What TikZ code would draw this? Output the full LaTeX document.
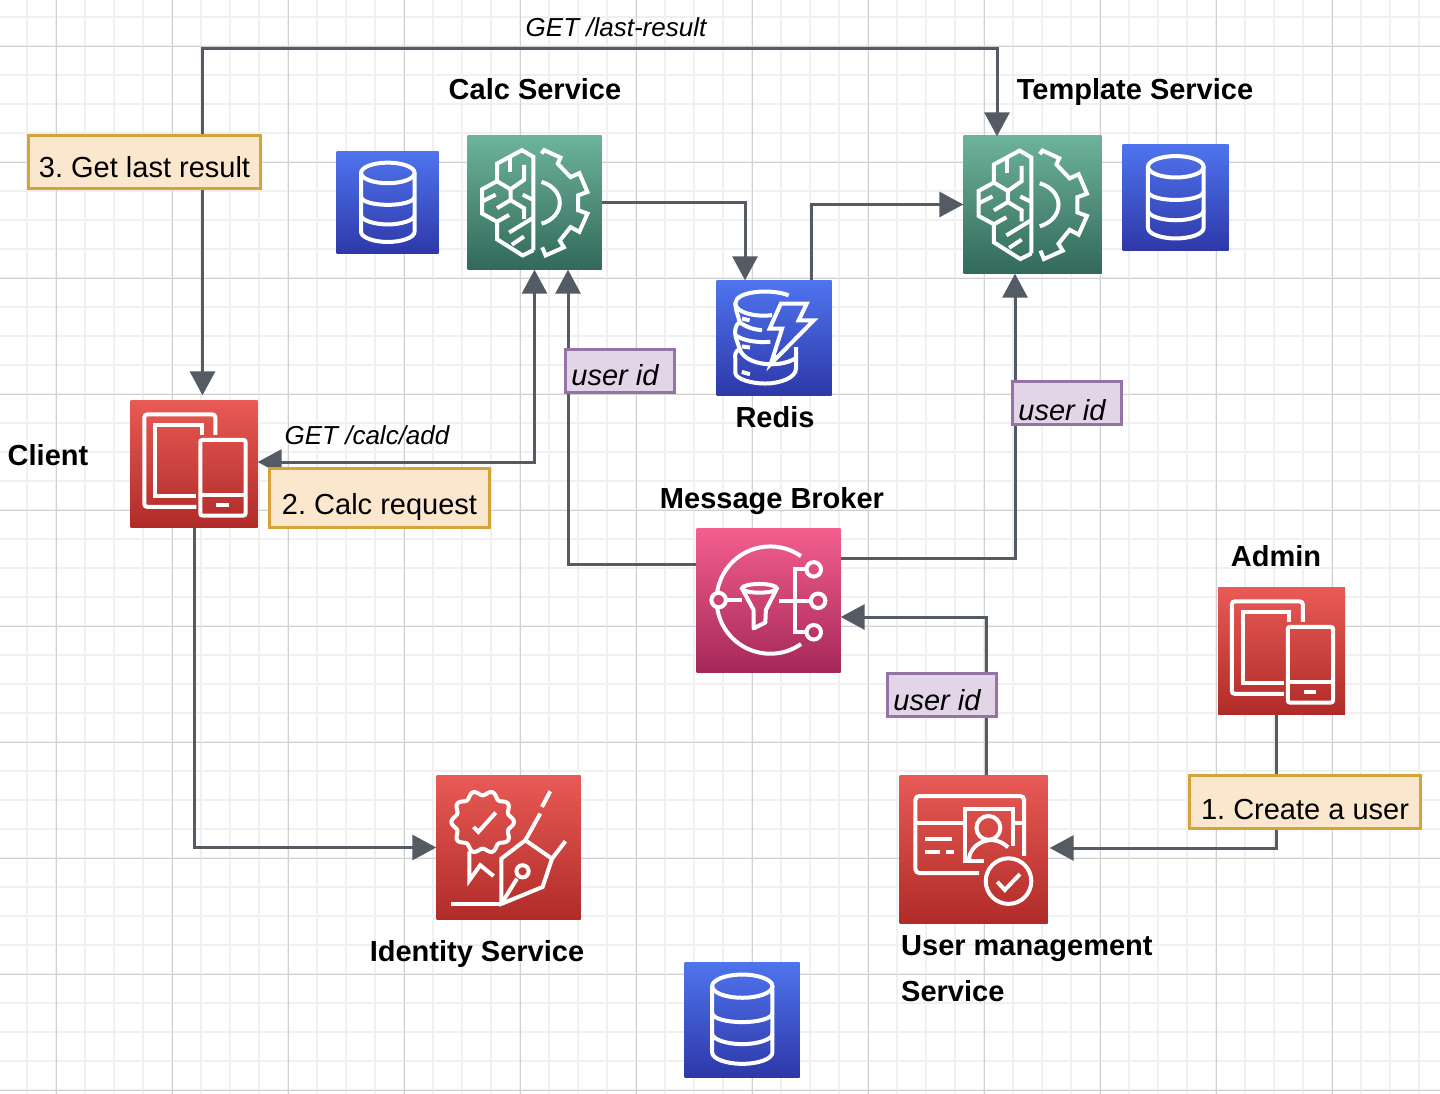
\documentclass[tikz,border=0pt]{standalone}
\usepackage{fontspec}
\setmainfont{Liberation Sans}
\usetikzlibrary{arrows.meta}
\frenchspacing
\definecolor{connector}{HTML}{545B64}
\definecolor{redtop}{HTML}{E85A55}
\definecolor{redbot}{HTML}{B02B28}
\definecolor{greentop}{HTML}{6DB39B}
\definecolor{greenbot}{HTML}{32695A}
\definecolor{bluetop}{HTML}{4F74EE}
\definecolor{bluebot}{HTML}{2E38A8}
\definecolor{pinktop}{HTML}{F25E8E}
\definecolor{pinkbot}{HTML}{A52858}
\definecolor{pinkmid}{HTML}{CC4273}
\definecolor{stepline}{HTML}{D6A23A}
\definecolor{stepfill}{HTML}{FBE6CE}
\definecolor{idline}{HTML}{9673A6}
\definecolor{idfill}{HTML}{E1D5E7}
\newcommand{\notetext}[2]{\raisebox{#1}[0pt][0pt]{#2}}
\tikzset{
  minorgrid/.style={draw=black!6,line width=1.2pt},
  majorgrid/.style={draw=black!18,line width=.9pt},
  iconbox/.style={rectangle,inner sep=0pt,minimum size=#1},
  redbox/.style={iconbox=#1,top color=redtop,bottom color=redbot},
  greenbox/.style={iconbox=#1,top color=greentop,bottom color=greenbot},
  bluebox/.style={iconbox=#1,top color=bluetop,bottom color=bluebot},
  pinkbox/.style={iconbox=#1,top color=pinktop,bottom color=pinkbot},
  conn/.style={draw=connector,line width=3pt,
    arrows={-Triangle[length=24pt,width=25pt]}},
  connboth/.style={conn,arrows={Triangle[length=24pt,width=25pt]-Triangle[length=24pt,width=25pt]}},
  title/.style={font=\fontsize{29}{46}\selectfont\bfseries,inner sep=0pt},
  route/.style={font=\fontsize{26}{30}\selectfont\itshape,inner sep=0pt},
  stepnote/.style={draw=stepline,fill=stepfill,line width=3pt,inner sep=0pt,
    font=\fontsize{29}{34}\selectfont},
  idnote/.style={draw=idline,fill=idfill,line width=3pt,inner sep=0pt,
    minimum width=109pt,minimum height=43pt,font=\fontsize{29}{34}\selectfont\itshape},
  glyph/.style={draw=white,line width=4pt,line join=miter,line cap=butt},
  dbglyph/.pic={
    \draw[glyph] (50,21) ellipse [x radius=26,y radius=10];
    \draw[glyph] (24,21) -- (24,78) .. controls (24,84) and (37,88) .. (50,88)
      .. controls (63,88) and (76,84) .. (76,78) -- (76,21);
    \draw[glyph] (24,44) .. controls (24,49) and (37,52) .. (50,52)
      .. controls (63,52) and (76,49) .. (76,44);
    \draw[glyph] (24,62) .. controls (24,67) and (37,71) .. (50,71)
      .. controls (63,71) and (76,67) .. (76,62);
  },
  brainglyph/.pic={
    \draw[glyph] (49,85) -- (49,16) -- (40.5,11) -- (22,21) -- (22,34) -- (11,40) -- (11,58)
      -- (22,64) -- (22,77) -- (41,89) -- (49,85);
    \draw[glyph] (31.6,16) -- (31.6,27);
    \draw[glyph] (22,34) -- (32,40) -- (42,33) -- (42,22);
    \draw[glyph] (32,40) -- (32,48) -- (42,54) -- (42,62);
    \draw[glyph] (11,49) -- (21,44);
    \draw[glyph] (22,54) -- (32,48);
    \draw[glyph] (41,44) -- (49,48);
    \draw[glyph] (22,64) -- (31,59);
    \draw[glyph] (31,72) -- (49,61);
    \draw[glyph] (33,81) -- (42,75);
    \draw[glyph] (55,13.5) -- (57,11) -- (69,16.5) -- (67,21) -- (76.5,31) -- (83,28) -- (89,42)
      -- (82,44.5) -- (82,55.5) -- (89,58) -- (83,71.5) -- (76.5,68) -- (68.5,78) -- (71.5,83)
      -- (58,89) -- (55.5,83);
    \draw[glyph] (55,34.5) .. controls (73,40) and (73,60) .. (55,65.5);
  },
  deviceglyph/.pic={
    \draw[glyph,rounded corners=3pt] (51.6,83.3) -- (11,83.3) -- (11,11) -- (66.4,11) -- (66.4,27);
    \draw[glyph] (51.6,75) -- (19.5,75) -- (19.5,19.5) -- (56,19.5) -- (56,27);
    \draw[glyph,rounded corners=2pt] (54.7,31) rectangle (90,90);
    \draw[glyph] (54.7,74) -- (90,74);
    \fill[white] (67,80) rectangle (77,83);
  },
  brokerglyph/.pic={
    \draw[glyph] (51,49.5) ++(-55:37) arc [start angle=-55,end angle=-305,radius=37];
    \draw[glyph,fill=pinkmid] (15.4,49.5) circle [radius=5];
    \draw[glyph] (81,28.3) circle [radius=5];
    \draw[glyph] (84,50) circle [radius=5];
    \draw[glyph] (81,71.7) circle [radius=5];
    \draw[glyph] (21,49.5) -- (31.6,49.5);
    \draw[glyph] (43.5,41.4) ellipse [x radius=12,y radius=3];
    \draw[glyph,line join=round] (31.5,41.4) -- (39.5,56.3) -- (39.5,69) -- (47.6,65) -- (48,56.3) -- (55.6,41.4);
    \draw[glyph] (56.8,50) -- (78.5,50);
    \draw[glyph] (75.6,28.3) -- (67.8,28.3) -- (67.8,71.7) -- (75.6,71.7);
  },
  idglyph/.pic={
    \draw[glyph] plot[domain=0:360,samples=121,smooth]
      ({32+(20+1.6*cos(10*\x))*cos(\x)},{32.2+(20+1.6*cos(10*\x))*sin(\x)}) -- cycle;
    \draw[glyph] (25.7,35.6) -- (29,39) -- (41,25.7);
    \draw[glyph] (22.8,52.4) -- (22.8,72.4) -- (30.3,62) -- (39.5,69.5);
    \draw[glyph] (10.3,88.7) -- (44.8,88.7);
    \draw[glyph] (44.8,88.7) -- (44.8,57.5) -- (61.4,44.8) -- (79.8,57.5) -- (73.3,77) -- cycle;
    \draw[glyph] (44.8,88.7) -- (55.6,71.3);
    \draw[glyph] (59.5,66.2) circle [radius=4.2];
    \draw[glyph] (61.4,44.8) -- (71.7,26.4);
    \draw[glyph] (72.9,21.8) -- (78.6,11);
    \draw[glyph] (79.8,57.5) -- (89,45.5);
  },
  userglyph/.pic={
    \draw[glyph,rounded corners=4pt] (53.5,65.6) -- (10.8,65.6) -- (10.8,13.9) -- (83.8,13.9) -- (83.8,54);
    \draw[glyph] (10.8,32) -- (42.9,32);
    \draw[glyph] (77.5,32) -- (83.8,32);
    \draw[glyph] (17.5,42.7) -- (35.5,42.7);
    \draw[glyph] (17.5,51.2) -- (27.6,51.2);
    \draw[glyph] (31,51.2) -- (36.6,51.2);
    \draw[glyph] (76,47.2) -- (76,22.5) -- (43.8,22.5) -- (43.8,57.3) -- (56.9,57.3);
    \draw[glyph] (59.8,35.3) circle [radius=8];
    \draw[glyph] (46.8,56.2) .. controls (47.5,46) and (62,38) .. (73,48.3);
    \draw[glyph] (73.3,71) circle [radius=15.3];
    \draw[glyph] (65.8,71.5) -- (70.8,76.9) -- (81,66.3);
  },
  redisglyph/.pic={
    \draw[glyph] (62.4,13) .. controls (48,7) and (16.4,9) .. (16.4,20)
      .. controls (16.4,28) and (35,32) .. (48,30);
    \draw[glyph] (16.4,20) .. controls (16.4,26) and (19,30) .. (20,36)
      .. controls (16,39) and (16,44) .. (16.4,47)
      .. controls (17,51) and (19,55) .. (20,59)
      .. controls (16,62) and (16,64) .. (16.4,68) -- (16.4,80)
      .. controls (17,85) and (30,89) .. (42,89)
      .. controls (55,89) and (68.7,84) .. (68.7,76) -- (68.7,57.5);
    \draw[glyph] (20,36) .. controls (25,40) and (32,42.5) .. (39.4,43);
    \draw[glyph] (16.4,47) .. controls (22,52) and (35,54) .. (46.6,53);
    \draw[glyph] (20,59) .. controls (25,74) and (55,76) .. (68.7,67);
    \draw[glyph] (22.2,33) -- (28.7,34.5);
    \draw[glyph] (22,57) -- (29,58);
    \draw[glyph] (22,79) -- (29,81);
    \draw[glyph] (55.7,20) -- (78,20) -- (71,34.5) -- (84,34.5) -- (47,72) -- (56.7,41.7) -- (46,41.7) -- cycle;
  },
}
\begin{document}
\begin{tikzpicture}[x=1pt,y=-1pt]
  \useasboundingbox (0,0) rectangle (1440,1094);
  \fill[white] (0,0) rectangle (1440,1094);

  % grid
  \foreach \gx in {27,56,...,1440} \draw[minorgrid] (\gx,0) -- (\gx,1094);
  \foreach \gy in {17,46,...,1094} \draw[minorgrid] (0,\gy) -- (1440,\gy);
  \foreach \gx in {56,172,...,1440} \draw[majorgrid] (\gx,0) -- (\gx,1094);
  \foreach \gy in {46,162,...,1094} \draw[majorgrid] (0,\gy) -- (1440,\gy);

  % services
  \node[greenbox=134pt] (calc) at (534.5,202.5) {};
  \node[greenbox=138pt] (template) at (1032.5,204.5) {};
  \node[bluebox=102pt] (calcdb) at (387.5,202.5) {};
  \node[bluebox=106pt] (templatedb) at (1175.5,197.5) {};
  \node[bluebox=115pt] (redis) at (774,338) {};
  \node[redbox=127pt] (client) at (194,464) {};
  \node[pinkbox=144pt] (broker) at (768.5,600.5) {};
  \node[redbox=127pt] (admin) at (1281.5,651) {};
  \node[redbox=144pt] (identity) at (508.5,847.5) {};
  \node[redbox=148pt] (mgmt) at (973.5,849.5) {};
  \node[bluebox=115pt] (mgmtdb) at (742,1019.5) {};

  \pic[scale=1.35] at (calc.north west) {brainglyph};
  \pic[scale=1.39] at (template.north west) {brainglyph};
  \pic[scale=1.03] at (calcdb.north west) {dbglyph};
  \pic[scale=1.07] at (templatedb.north west) {dbglyph};
  \pic[scale=1.16] at (mgmtdb.north west) {dbglyph};
  \pic[scale=1.16] at (redis.north west) {redisglyph};
  \pic[scale=1.28] at (client.north west) {deviceglyph};
  \pic[scale=1.28] at (admin.north west) {deviceglyph};
  \pic[scale=1.45] at (broker.north west) {brokerglyph};
  \pic[scale=1.45] at (identity.north west) {idglyph};
  \pic[scale=1.49] at (mgmt.north west) {userglyph};

  % connectors
  \coordinate (topline) at (600,48.5);
  \draw[connboth,shorten <=5pt,shorten >=-1pt] ([xshift=8.5pt]client.north) |- (topline) -| ([xshift=-35.5pt]template.north);
  \draw[connboth] (calc.south) |- ([yshift=2pt]client.east);
  \draw[conn] (calc.east) -| ([xshift=-29pt]redis.north);
  \draw[conn] ([xshift=37pt]redis.north) |- (template.west);
  \draw[conn] ([yshift=36.5pt]broker.west) -| ([xshift=33.5pt]calc.south);
  \draw[conn] ([yshift=42.5pt]broker.east) -| ([xshift=-17.5pt]template.south);
  \draw[conn] ([xshift=12.5pt]mgmt.north) |- ([yshift=-16.5pt]broker.east);
  \draw[conn,shorten >=2pt] ([xshift=-5.5pt]admin.south) |- ([yshift=1.5pt]mgmt.east);
  \draw[conn] (client.south) |- (identity.west);

  % notes
  \node[stepnote,minimum width=232pt,minimum height=53pt] (laststep) at (144.5,162) {\notetext{-16pt}{3. Get last result}};
  \node[stepnote,minimum width=220pt,minimum height=59pt] (calcstep) at (379.5,498) {\notetext{-16pt}{2. Calc request}};
  \node[stepnote,minimum width=231pt,minimum height=53pt] (userstep) at (1305,802) {\notetext{-17pt}{1. Create a user}};
  \node[idnote] (calcid) at (620,371) {\hspace{-10pt}\notetext{-14pt}{user id}};
  \node[idnote] (templateid) at (1067,403) {\hspace{-10pt}\notetext{-17pt}{user id}};
  \node[idnote] (brokerid) at (942,695) {\hspace{-10pt}\notetext{-15pt}{user id}};

  % labels
  \node[route] (lastroute) at (616,27) {GET /last-result};
  \node[route] (calcroute) at (367,435) {GET /calc/add};
  \node[title] (calclabel) at (535,89) {Calc Service};
  \node[title] (templatelabel) at (1135,92) {Template Service};
  \node[title] (redislabel) at (775,417) {Redis};
  \node[title] (clientlabel) at (48,455) {Client};
  \node[title] (brokerlabel) at (772,501) {Message Broker};
  \node[title] (adminlabel) at (1276,556) {Admin};
  \node[title] (identitylabel) at (477,954) {Identity Service};
  \node[title,align=left,anchor=west] (mgmtlabel) at (901,969) {User management\\Service};
\end{tikzpicture}
\end{document}
